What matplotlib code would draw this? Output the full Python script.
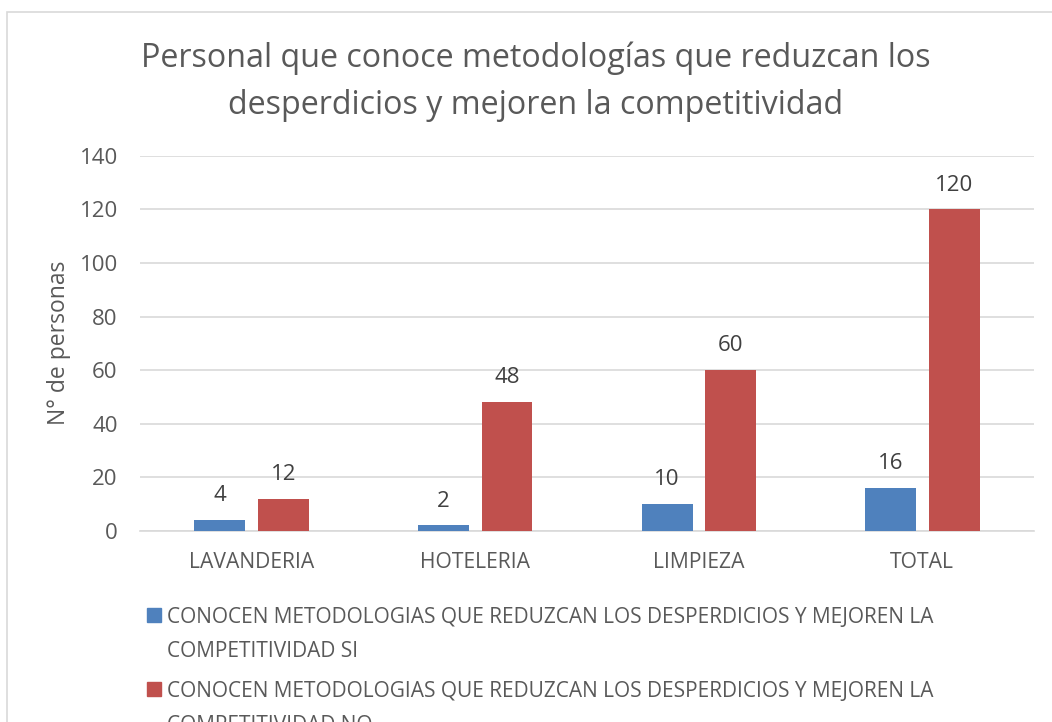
import matplotlib.pyplot as plt
from matplotlib.patches import Rectangle
import numpy as np

categories = ["LAVANDERIA", "HOTELERIA", "LIMPIEZA", "TOTAL"]
conocen_si = [4, 2, 10, 16]
conocen_no = [12, 48, 60, 120]
series_names = [
    "CONOCEN METODOLOGIAS QUE REDUZCAN LOS DESPERDICIOS Y MEJOREN LA COMPETITIVIDAD SI",
    "CONOCEN METODOLOGIAS QUE REDUZCAN LOS DESPERDICIOS Y MEJOREN LA COMPETITIVIDAD NO",
]
y_ticks = [0, 20, 40, 60, 80, 100, 120, 140]

BLUE = "#4F81BD"
RED = "#C0504D"
TEXT = "#595959"

plt.rcParams["font.family"] = ["Open Sans", "DejaVu Sans"]

W, H = 1052, 722
fig = plt.figure(figsize=(W / 100, H / 100), dpi=100)
ax = fig.add_axes([0.133, 0.265, 0.85, 0.519])

x = np.arange(len(categories))
w = 0.228
off = 0.142
b1 = ax.bar(x - off, conocen_si, w, color=BLUE, zorder=3)
b2 = ax.bar(x + off, conocen_no, w, color=RED, zorder=3)

# value labels over every bar
for bars, vals in ((b1, conocen_si), (b2, conocen_no)):
    for rect, v in zip(bars, vals):
        ax.annotate(str(v), (rect.get_x() + rect.get_width() / 2, v),
                    xytext=(0, 17.5), textcoords="offset points",
                    ha="center", va="center", fontsize=16, color="#404040")

ax.set_xlim(-0.5, len(categories) - 0.5)
ax.set_ylim(0, 140)
ax.set_yticks(y_ticks)
ax.set_xticks(x)
ax.set_xticklabels(categories, fontsize=15.2)
ax.grid(axis="y", color="#D9D9D9", linewidth=1.2, zorder=0)
for s in ("top", "right", "left"):
    ax.spines[s].set_visible(False)
ax.spines["bottom"].set_color("#D9D9D9")
ax.spines["bottom"].set_linewidth(1.2)
ax.tick_params(axis="both", length=0, colors=TEXT)
ax.tick_params(axis="y", pad=16, labelsize=16)
ax.tick_params(axis="x", pad=15)
ax.set_ylabel("N° de personas", fontsize=16.5, color=TEXT, labelpad=6)

fig.text(0.509, 0.887, "Personal que conoce metodologías que reduzcan los\n"
         "desperdicios y mejoren la competitividad",
         ha="center", va="center", fontsize=23.2, color=TEXT, linespacing=1.55)

# legend below the plot, wrapped onto two lines per entry
wrapped = [n.replace(" LA COMPETITIVIDAD", " LA\nCOMPETITIVIDAD") for n in series_names]
for i, (name, col) in enumerate(zip(wrapped, (BLUE, RED))):
    sq_top = 608 + i * 74
    fig.patches.append(Rectangle((147 / W, 1 - (sq_top + 14) / H), 14 / W, 14 / H,
                                 transform=fig.transFigure, color=col))
    fig.text(167 / W, 1 - (sq_top - 1) / H, name, ha="left", va="top",
             fontsize=15, color=TEXT, linespacing=1.8)

# chart frame
fig.patches.append(Rectangle((7 / W, -0.05), 1.1, 1 - 12 / H + 0.05,
                             transform=fig.transFigure, fill=False,
                             edgecolor="#D9D9D9", linewidth=1.2))

fig.savefig("out.png", dpi=100)
